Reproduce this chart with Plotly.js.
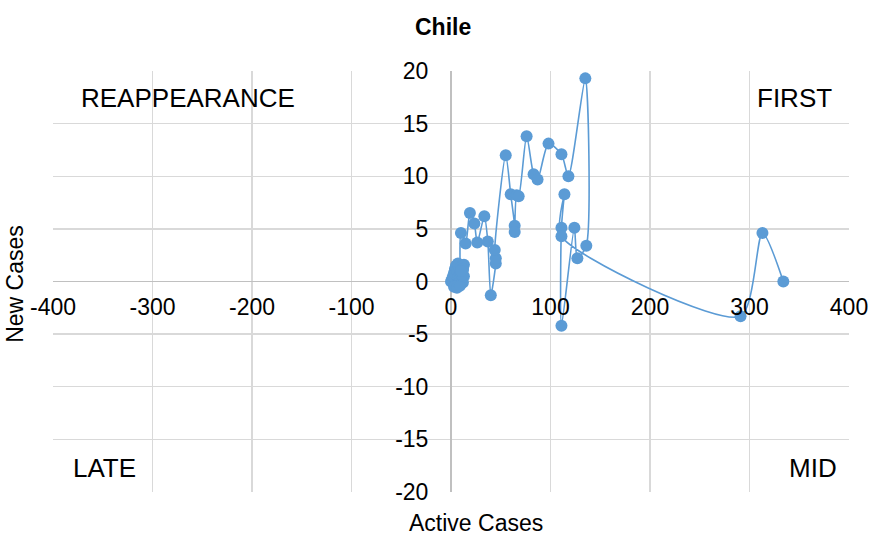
<!DOCTYPE html>
<html>
<head>
<meta charset="utf-8">
<script src="https://cdn.plot.ly/plotly-3.0.1.min.js"></script>
<style>html,body{margin:0;padding:0;background:#fff}#chart{width:874px;height:543px}</style>
</head>
<body>
<div id="chart"></div>
<script>
// Active cases (x) and new cases (y), in path order
const activeCases = [0,1,2,3,4,5,4,6,7,5,3,6,8,9,10,8,7,10,12,13,11,12,9,11,13,12,10,
  10,14.7,19,23.5,26.4,33.5,37,40,45,45,44,55,60,64,64,66,68,76,83,87,98,111,118,135,136,127,124,111,111,114,111,291,313,334];
const newCases = [0,0.2,0.5,0.8,1.2,1.5,0.7,1.0,0.3,-0.3,-0.5,-0.6,-0.2,0.4,0.8,1.3,1.7,1.4,1.1,1.6,0.3,-0.1,-0.4,0.6,0.5,1.2,1.0,
  4.6,3.6,6.5,5.5,3.7,6.2,3.8,-1.3,1.7,2.2,3.0,12.0,8.3,5.3,4.7,8.2,8.1,13.8,10.2,9.7,13.1,12.1,10.0,19.3,3.4,2.2,5.1,-4.2,5.1,8.3,4.3,-3.3,4.6,0];
const xTicks = [-400,-300,-200,-100,0,100,200,300,400];
const yTicks = [-20,-15,-10,-5,0,5,10,15,20];
const quadrantLabels = ["REAPPEARANCE","FIRST","LATE","MID"];

const blue = '#5b9bd5';
const fam = 'Liberation Sans, Arial, sans-serif';
const tickFont = {family: fam, size: 23, color: '#000'};
const qFont = {family: fam, size: 26, color: '#000'};

const trace = {
  x: activeCases, y: newCases, type: 'scatter', mode: 'lines+markers',
  line: {color: blue, width: 1.6, shape: 'spline', smoothing: 0.7},
  marker: {color: blue, size: 12}
};

const layout = {
  width: 874, height: 543,
  margin: {l: 53, r: 25, t: 71, b: 51},
  paper_bgcolor: '#fff', plot_bgcolor: '#fff',
  showlegend: false,
  font: tickFont,
  title: {text: '<b>Chile</b>', x: 0.507, xanchor: 'center', y: 0.951, yanchor: 'middle',
          font: {family: fam, size: 23, color: '#000'}},
  xaxis: {
    range: [-400, 400], tickvals: xTicks, ticktext: xTicks.map(String),
    anchor: 'free', position: 0.5,
    showgrid: true, gridcolor: '#d9d9d9', gridwidth: 1.3,
    zeroline: true, zerolinecolor: '#c0c0c0', zerolinewidth: 1.5,
    showline: false, ticks: 'outside', ticklen: 5, tickcolor: 'rgba(0,0,0,0)',
    tickfont: tickFont
  },
  yaxis: {
    range: [-20, 20], tickvals: yTicks, ticktext: yTicks.map(String),
    anchor: 'free', position: 0.5,
    showgrid: true, gridcolor: '#d9d9d9', gridwidth: 1.3,
    zeroline: true, zerolinecolor: '#c0c0c0', zerolinewidth: 1.5,
    showline: false, ticks: 'outside', ticklen: 18, tickcolor: 'rgba(0,0,0,0)',
    tickfont: tickFont
  },
  annotations: [
    {text: quadrantLabels[0], xref: 'paper', yref: 'paper', x: 0.033, y: 0.937, xanchor: 'left', yanchor: 'middle', showarrow: false, font: qFont},
    {text: quadrantLabels[1], xref: 'paper', yref: 'paper', x: 0.981, y: 0.937, xanchor: 'right', yanchor: 'middle', showarrow: false, font: qFont},
    {text: quadrantLabels[2], xref: 'paper', yref: 'paper', x: 0.023, y: 0.057, xanchor: 'left', yanchor: 'middle', showarrow: false, font: qFont},
    {text: quadrantLabels[3], xref: 'paper', yref: 'paper', x: 0.987, y: 0.057, xanchor: 'right', yanchor: 'middle', showarrow: false, font: qFont},
    {text: 'New Cases', xref: 'paper', yref: 'paper', x: -0.048, y: 0.494, xanchor: 'center', yanchor: 'middle', textangle: -90, showarrow: false, font: tickFont},
    {text: 'Active Cases', xref: 'paper', yref: 'paper', x: 0.531, y: -0.074, xanchor: 'center', yanchor: 'middle', showarrow: false, font: tickFont}
  ]
};

Plotly.newPlot('chart', [trace], layout, {displayModeBar: false, staticPlot: true});
</script>
</body>
</html>
